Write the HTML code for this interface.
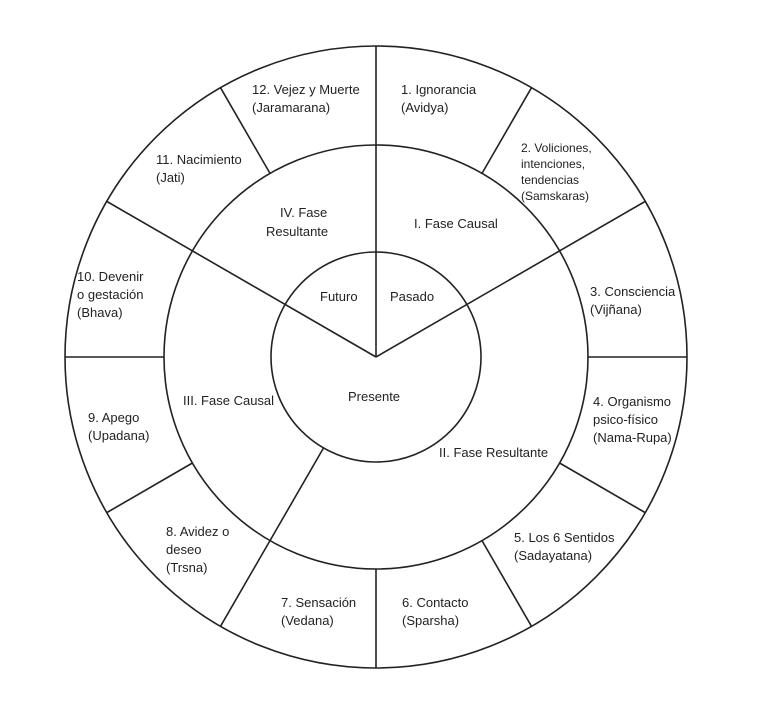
<!DOCTYPE html>
<html><head><style>body{margin:0;background:#fff}svg{display:block}</style></head><body>
<svg width="768" height="717" viewBox="0 0 768 717" xmlns="http://www.w3.org/2000/svg">
<g fill="none" stroke="#222" stroke-width="1.6">
<circle cx="376" cy="357" r="311"/>
<circle cx="376" cy="357" r="212"/>
<circle cx="376" cy="357" r="105"/>
<line x1="376" y1="357" x2="376" y2="46"/>
<line x1="376" y1="357" x2="645" y2="201.5"/>
<line x1="376" y1="357" x2="107" y2="201.5"/>
<line x1="323.5" y1="448" x2="270" y2="540.6"/>
<line x1="482" y1="173.4" x2="531.5" y2="87.7"/>
<line x1="588" y1="357" x2="687" y2="357"/>
<line x1="559.6" y1="463" x2="645" y2="512.5"/>
<line x1="482" y1="540.6" x2="531.5" y2="626.3"/>
<line x1="376" y1="569" x2="376" y2="668"/>
<line x1="270" y1="540.6" x2="220.5" y2="626.3"/>
<line x1="192.4" y1="463" x2="107" y2="512.5"/>
<line x1="164" y1="357" x2="65" y2="357"/>
<line x1="270" y1="173.4" x2="220.5" y2="87.7"/>
</g>
<g font-family="Liberation Sans, sans-serif" font-size="13" fill="#222">
<text x="401" y="94">1. Ignorancia</text><text x="401" y="112">(Avidya)</text>
<text x="521" y="152" font-size="12">2. Voliciones,</text><text x="521" y="168" font-size="12">intenciones,</text><text x="521" y="184" font-size="12">tendencias</text><text x="521" y="200" font-size="12">(Samskaras)</text>
<text x="590" y="296">3. Consciencia</text><text x="590" y="314">(Vijñana)</text>
<text x="593" y="406">4. Organismo</text><text x="593" y="424">psico-físico</text><text x="593" y="442">(Nama-Rupa)</text>
<text x="514" y="542">5. Los 6 Sentidos</text><text x="514" y="560">(Sadayatana)</text>
<text x="402" y="607">6. Contacto</text><text x="402" y="625">(Sparsha)</text>
<text x="281" y="607">7. Sensación</text><text x="281" y="625">(Vedana)</text>
<text x="166" y="536">8. Avidez o</text><text x="166" y="554">deseo</text><text x="166" y="572">(Trsna)</text>
<text x="88" y="422">9. Apego</text><text x="88" y="440">(Upadana)</text>
<text x="77" y="281">10. Devenir</text><text x="77" y="299">o gestación</text><text x="77" y="317">(Bhava)</text>
<text x="156" y="164">11. Nacimiento</text><text x="156" y="182">(Jati)</text>
<text x="252" y="94">12. Vejez y Muerte</text><text x="252" y="112">(Jaramarana)</text>
<text x="414" y="228">I. Fase Causal</text>
<text x="439" y="457">II. Fase Resultante</text>
<text x="183" y="405">III. Fase Causal</text>
<text x="280" y="217">IV. Fase</text><text x="266" y="236">Resultante</text>
<text x="320" y="301">Futuro</text>
<text x="390" y="301">Pasado</text>
<text x="348" y="401">Presente</text>
</g>
</svg>
</body></html>
